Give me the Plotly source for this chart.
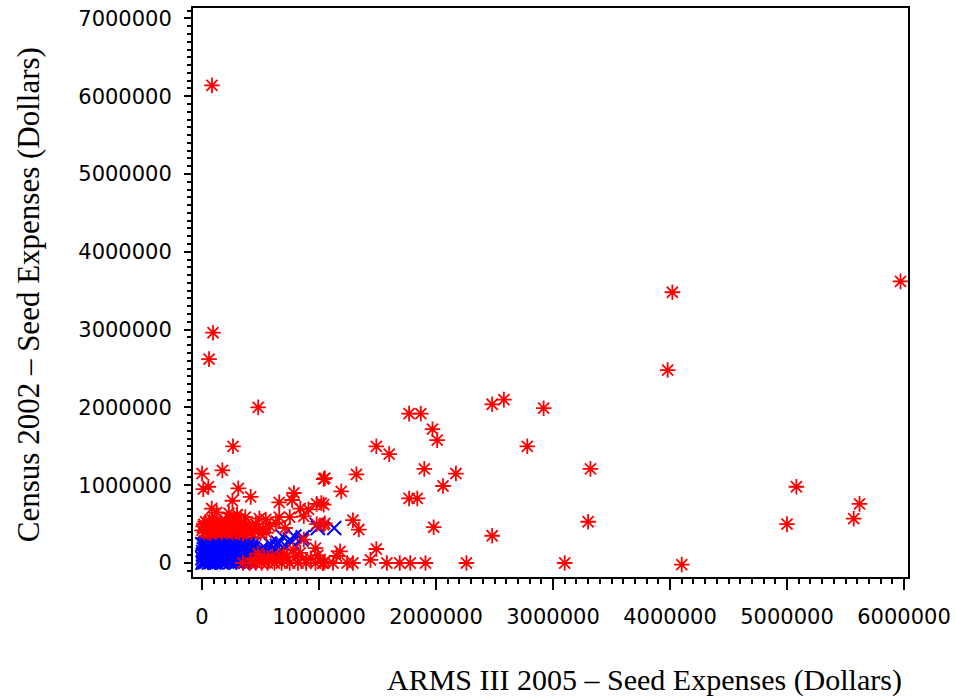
import plotly.graph_objects as go

# ---------------- data (dollars) ----------------
# Red asterisks
red_x = [
    85000, 94000, 60000, 480000, 265000, 0, 174000, 11000, 54000, 310000, 416000, 260000,
    1040000, 786000, 660000, 770000, 83000, 126000, 300000, 490000, 840000, 910000, 980000, 1020000,
    660000, 750000, 870000, 980000, 1050000, 580000, 710000, 970000, 870000, 780000, 690000, 890000, 1050000,
    350000, 410000, 460000, 510000, 560000, 620000, 680000, 750000, 820000, 890000, 970000, 1030000,
    1490000, 1600000, 2010000, 1900000, 2170000, 1320000, 1050000, 1190000, 2060000, 1770000, 1840000,
    1040000, 1290000, 1340000, 1980000, 1040000, 1180000, 1150000, 1490000,
    1040000, 1120000, 1240000, 1290000, 1440000, 1580000, 1690000, 1780000, 1910000, 2260000,
    2480000, 2580000, 2920000, 1770000, 1870000, 1970000, 2780000, 3320000, 3300000, 2480000, 3100000,
    4020000, 5970000, 3980000, 4100000, 5080000, 5000000, 5620000, 5570000,
    0, 10000, 20000, 30000, 40000, 50000, 60000, 70000, 80000, 90000, 100000, 110000, 120000, 130000,
    140000, 150000, 160000, 170000, 180000, 190000, 200000, 210000, 220000, 230000, 240000, 250000,
    260000, 270000, 280000, 290000, 300000, 310000, 320000, 330000, 340000, 350000, 360000, 370000,
    380000, 400000, 420000, 440000, 460000, 480000, 500000, 520000, 550000, 15000, 65000, 145000,
    205000, 275000, 335000, 395000,
    450000, 480000, 530000, 570000, 600000, 640000, 700000, 730000, 800000, 840000, 930000, 990000,
    370000, 230000, 545000, 630000,
]
red_y = [
    6140000, 2960000, 2620000, 2000000, 1500000, 1150000, 1190000, 950000, 980000, 960000, 850000, 800000,
    1080000, 900000, 780000, 810000, 700000, 650000, 620000, 570000, 700000, 690000, 760000, 770000,
    590000, 590000, 600000, 500000, 510000, 470000, 450000, 190000, 300000, 170000, 80000, 40000, 20000,
    0, 0, 0, 0, 0, 0, 0, 0, 0, 0, 0, 0,
    1500000, 1400000, 1580000, 1210000, 1150000, 1140000, 1090000, 920000, 990000, 830000, 830000,
    750000, 550000, 430000, 460000, 490000, 150000, 90000, 180000,
    0, 0, 0, 0, 40000, 0, 0, 0, 0, 0,
    2040000, 2100000, 1990000, 1920000, 1920000, 1720000, 1500000, 1210000, 530000, 350000, 0,
    3480000, 3620000, 2480000, -20000, 980000, 500000, 760000, 570000,
    420000, 470000, 390000, 530000, 430000, 400000, 480000, 380000, 450000, 550000, 410000, 500000, 390000, 440000,
    480000, 420000, 530000, 390000, 460000, 420000, 490000, 400000, 450000, 580000, 410000, 470000,
    390000, 510000, 430000, 410000, 620000, 460000, 390000, 490000, 420000, 380000, 530000, 450000,
    400000, 470000, 390000, 430000, 500000, 400000, 380000, 440000, 390000, 500000, 540000, 500000,
    540000, 560000, 510000, 410000,
    50000, 120000, 70000, 30000, 90000, 50000, 120000, 30000, 80000, 130000, 60000, 100000,
    590000, 640000, 560000, 520000,
]

# Blue crosses
blue_x = [
    5000, 12000, 20000, 28000, 35000, 42000, 50000, 58000, 65000, 72000, 80000, 88000, 95000, 103000,
    110000, 118000, 125000, 133000, 140000, 148000, 155000, 163000, 170000, 178000, 185000, 193000,
    200000, 208000, 215000, 223000, 230000, 238000, 245000, 253000, 260000, 268000, 275000, 283000,
    290000, 298000, 305000, 313000, 320000, 328000, 335000, 343000, 350000, 358000, 365000, 373000,
    380000, 388000, 395000, 403000, 410000, 418000, 425000, 432000,
    8000, 15000, 22000, 30000, 38000, 45000, 52000, 60000, 68000, 75000, 82000, 90000, 98000, 105000,
    112000, 120000, 128000, 135000, 143000, 150000, 158000, 165000, 173000, 180000, 188000, 195000,
    203000, 210000, 218000, 225000, 233000, 240000, 248000, 255000, 263000, 270000, 278000, 285000,
    293000, 300000, 308000, 315000, 323000, 330000, 338000, 345000, 353000, 360000, 368000, 375000,
    383000, 390000, 398000, 405000, 412000, 420000, 428000, 435000,
    3000, 10000, 18000, 25000, 33000, 40000, 48000, 55000, 63000, 70000, 78000, 85000, 93000, 100000,
    108000, 115000, 123000, 130000, 138000, 145000, 153000, 160000, 168000, 175000, 183000, 190000,
    198000, 205000, 213000, 220000, 228000, 235000, 243000, 250000, 258000, 265000, 273000, 280000,
    288000, 295000, 303000, 310000, 318000, 325000, 333000, 340000, 348000, 355000, 363000, 370000,
    378000, 385000, 393000, 400000, 408000, 415000, 422000, 430000,
    2000, 16000, 32000, 47000, 61000, 77000, 92000, 107000, 121000, 137000, 152000, 167000, 182000, 197000,
    212000, 227000, 242000, 257000, 272000, 287000, 302000, 317000, 332000, 347000, 362000, 377000, 392000, 407000,
    460000, 480000, 500000, 510000, 520000, 540000, 545000, 580000, 590000, 620000, 640000, 650000,
    670000, 690000, 720000, 750000, 770000, 790000, 850000, 860000, 980000, 990000, 1130000,
]
blue_y = [
    3000, 20000, 8000, 45000, 15000, 60000, 30000, 5000, 80000, 40000, 12000, 95000, 55000, 25000,
    130000, 70000, 10000, 110000, 45000, 150000, 85000, 20000, 175000, 60000, 125000, 35000,
    200000, 95000, 15000, 160000, 70000, 220000, 120000, 40000, 185000, 90000, 240000, 140000,
    25000, 205000, 110000, 60000, 250000, 170000, 30000, 215000, 130000, 75000, 255000, 180000,
    45000, 230000, 115000, 10000, 195000, 85000, 150000, 35000,
    110000, 175000, 240000, 130000, 205000, 265000, 165000, 225000, 120000, 262000, 190000, 250000, 160000, 5000,
    220000, 268000, 185000, 255000, 100000, 230000, 266000, 140000, 245000, 195000, 262000, 150000,
    255000, 268000, 120000, 265000, 180000, 266000, 160000, 262000, 225000, 150000, 264000, 200000,
    260000, 175000, 266000, 230000, 100000, 265000, 190000, 5000, 240000, 165000, 95000, 262000,
    140000, 210000, 60000, 245000, 130000, 200000, 90000, 240000,
    60000, 140000, 90000, 200000, 260000, 105000, 210000, 266000, 170000, 230000, 30000, 160000, 215000, 268000,
    75000, 190000, 235000, 60000, 205000, 265000, 40000, 105000, 210000, 125000, 5000, 85000,
    130000, 45000, 195000, 55000, 110000, 150000, 80000, 225000, 110000, 55000, 195000, 75000,
    120000, 155000, 45000, 215000, 145000, 200000, 95000, 150000, 30000, 195000, 120000, 15000,
    205000, 70000, 170000, 115000, 165000, 20000, 110000, 180000,
    240000, 35000, 180000, 95000, 250000, 15000, 140000, 200000, 50000, 265000, 100000, 5000, 230000, 70000,
    260000, 135000, 8000, 245000, 60000, 255000, 20000, 125000, 240000, 55000, 230000, 95000, 255000, 140000,
    130000, 70000, 160000, 190000, 100000, 190000, 120000, 250000, 230000, 150000, 220000, 260000,
    170000, 340000, 210000, 300000, 270000, 340000, 300000, 330000, 490000, 450000, 450000,
]

x_title = "ARMS III 2005 \u2013 Seed Expenses (Dollars)"
y_title = "Census 2002 \u2013 Seed Expenses (Dollars)"

# ---------------- figure ----------------
fig = go.Figure()
fig.add_trace(go.Scatter(
    x=blue_x, y=blue_y, mode="markers",
    marker=dict(symbol="x-thin-open", size=14, color="#0000FF",
                line=dict(color="#0000FF", width=2)),
    hoverinfo="x+y",
))
fig.add_trace(go.Scatter(
    x=red_x, y=red_y, mode="markers",
    marker=dict(symbol="asterisk-open", size=13, color="#FF0000",
                line=dict(color="#FF0000", width=1.8)),
    hoverinfo="x+y",
))

tick_font = dict(family="DejaVu Sans", size=21, color="black")
fig.update_xaxes(
    range=[-77000, 6034000], dtick=1000000, tick0=0, tickformat="d",
    showline=True, linecolor="black", linewidth=2, mirror=True,
    ticks="outside", ticklen=11, tickwidth=2, tickcolor="black",
    ticklabelstandoff=9,
    minor=dict(dtick=100000, tick0=0, ticks="outside", ticklen=5, tickwidth=1.5, tickcolor="black", showgrid=False),
    showgrid=False, zeroline=False, tickfont=tick_font, automargin=False,
)
fig.update_yaxes(
    range=[-180000, 7134000], dtick=1000000, tick0=0, tickformat="d",
    showline=True, linecolor="black", linewidth=2, mirror=True,
    ticks="outside", ticklen=7, tickwidth=2, tickcolor="black",
    ticklabelstandoff=8,
    minor=dict(dtick=100000, tick0=0, ticks="outside", ticklen=4, tickwidth=1.5, tickcolor="black", showgrid=False),
    showgrid=False, zeroline=False, tickfont=tick_font, automargin=False,
)

fig.add_annotation(
    text=x_title, xref="paper", yref="paper", x=0.632, y=-0.181,
    xanchor="center", yanchor="middle", showarrow=False, borderpad=0,
    font=dict(family="Liberation Serif", size=30, color="black"),
)
fig.add_annotation(
    text=y_title, xref="paper", yref="paper", x=-0.2308, y=0.497,
    xanchor="center", yanchor="middle", showarrow=False, textangle=-90, borderpad=0,
    font=dict(family="Liberation Serif", size=31, color="black"),
)

fig.update_layout(
    width=955, height=698,
    margin=dict(l=193, r=47, t=8, b=121),
    paper_bgcolor="white", plot_bgcolor="white",
    showlegend=False,
)

fig.write_html(
    "out.html",
    config={"displayModeBar": False},
    post_script="document.body.style.margin='0';document.body.style.overflow='hidden';",
)
